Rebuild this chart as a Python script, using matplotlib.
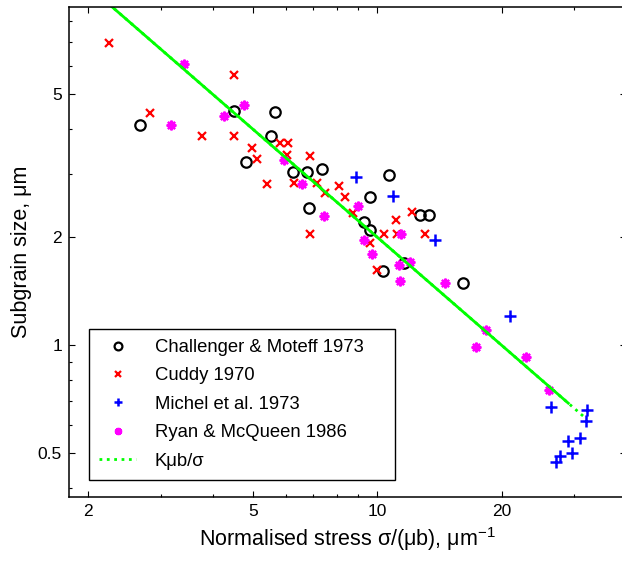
import numpy as np
import matplotlib
matplotlib.use("Agg")
import matplotlib.pyplot as plt
from matplotlib.ticker import FixedLocator, LogLocator, NullFormatter, FuncFormatter

plt.rcParams['font.family'] = ['Liberation Sans', 'DejaVu Sans']
plt.rcParams['mathtext.fontset'] = 'custom'
plt.rcParams['mathtext.rm'] = 'Liberation Sans'
plt.rcParams['mathtext.it'] = 'Liberation Sans'
plt.rcParams['mathtext.default'] = 'regular'

# Challenger & Moteff 1973
cm_stress = [2.67, 4.49, 5.66, 5.53, 4.80, 6.24, 6.76, 7.36, 6.82, 10.66,
             9.58, 9.31, 9.58, 12.71, 13.36, 10.30, 11.64, 16.11]
cm_size = [4.12, 4.50, 4.47, 3.82, 3.24, 3.03, 3.03, 3.09, 2.41, 2.98,
           2.59, 2.21, 2.10, 2.31, 2.30, 1.61, 1.69, 1.49]

# Cuddy 1970
cu_stress = [2.24, 4.51, 2.82, 3.76, 4.51, 4.97, 5.82, 6.07, 5.13, 6.04,
             6.88, 5.40, 6.29, 7.13, 8.06, 7.46, 8.37, 8.76, 11.12, 12.11,
             6.86, 10.41, 11.14, 13.07, 9.62, 9.96]
cu_size = [6.97, 5.65, 4.45, 3.84, 3.84, 3.54, 3.65, 3.67, 3.31, 3.38,
           3.36, 2.82, 2.83, 2.83, 2.78, 2.65, 2.59, 2.33, 2.24, 2.35,
           2.04, 2.04, 2.04, 2.04, 1.93, 1.62]

# Michel et al. 1973
mi_stress = [8.89, 10.93, 13.78, 20.96, 26.38, 32.19, 32.0, 28.89, 31.01,
             27.74, 27.05, 29.61]
mi_size = [2.94, 2.61, 1.96, 1.21, 0.671, 0.660, 0.617, 0.541, 0.551,
           0.490, 0.472, 0.500]

# Ryan & McQueen 1986
rm_stress = [3.40, 3.17, 4.26, 4.75, 5.95, 6.57, 7.44, 9.00, 9.30, 9.70,
             11.31, 11.98, 11.37, 14.55, 17.37, 18.36, 22.87, 26.04, 11.43]
rm_size = [6.08, 4.12, 4.35, 4.67, 3.28, 2.81, 2.29, 2.44, 1.97, 1.80,
           1.67, 1.71, 1.51, 1.49, 0.989, 1.10, 0.929, 0.751, 2.04]

# K mu b / sigma line
k_const = 20.0
fit_stress_solid = np.array([2.0, 29.0])
fit_stress_dot = np.array([2.0, 32.0])

x_ticks = [2, 5, 10, 20]
y_ticks = [0.5, 1, 2, 5]

fig = plt.figure(figsize=(6.22, 5.63), dpi=100)
ax = fig.add_axes([69 / 622, 1 - 497.3 / 563, (626 - 69) / 622, (497.3 - 7.3) / 563])

ax.plot(cm_stress, cm_size, 'o', mfc='none', mec='black', ms=7.5, mew=1.6,
        label='Challenger & Moteff 1973')
ax.plot(cu_stress, cu_size, 'x', color='red', ms=6, mew=1.6, label='Cuddy 1970')
ax.plot(mi_stress, mi_size, '+', color='blue', ms=8, mew=1.8,
        label='Michel et al. 1973')
ax.plot(rm_stress, rm_size, linestyle='none', marker=(8, 2, 0), color='magenta',
        ms=7, mew=1.6, label='Ryan & McQueen 1986')
ax.plot(fit_stress_dot, k_const / fit_stress_dot, ':', color='lime', lw=2,
        label='K\u03bcb/\u03c3')
ax.plot(fit_stress_solid, k_const / fit_stress_solid, '-', color='lime', lw=2)

ax.set_xscale('log')
ax.set_yscale('log')
ax.set_xlim(1.795, 40)
ax.set_ylim(0.377, 8.74)

fmt = FuncFormatter(lambda v, p: f'{v:g}')
ax.xaxis.set_major_locator(FixedLocator(x_ticks))
ax.yaxis.set_major_locator(FixedLocator(y_ticks))
ax.xaxis.set_major_formatter(fmt)
ax.yaxis.set_major_formatter(fmt)
ax.xaxis.set_minor_locator(LogLocator(base=10, subs=np.arange(2, 10)))
ax.yaxis.set_minor_locator(LogLocator(base=10, subs=np.arange(2, 10)))
ax.xaxis.set_minor_formatter(NullFormatter())
ax.yaxis.set_minor_formatter(NullFormatter())
ax.tick_params(which='both', direction='in', top=True, right=True,
               labelsize=12.5, width=0.8, pad=5)
ax.tick_params(which='major', length=4.5)
ax.tick_params(which='minor', length=2.5)
for s in ax.spines.values():
    s.set_linewidth(1.1)

ax.set_xlabel('Normalised stress \u03c3/(\u03bcb), \u03bcm$^{-1}$', fontsize=15.5)
ax.set_ylabel('Subgrain size, \u03bcm', fontsize=15.5)

leg = ax.legend(loc='lower left',
                bbox_to_anchor=(20 / 557, 17.3 / 490, 306 / 557, 149 / 490),
                mode='expand', borderaxespad=0, fontsize=13.3, frameon=True,
                fancybox=False, edgecolor='black', framealpha=1,
                labelspacing=0.62, handlelength=2.0, handletextpad=1.0,
                borderpad=0.55, markerscale=0.75)
leg.get_frame().set_linewidth(1.0)

fig.savefig('out.png', dpi=100)
